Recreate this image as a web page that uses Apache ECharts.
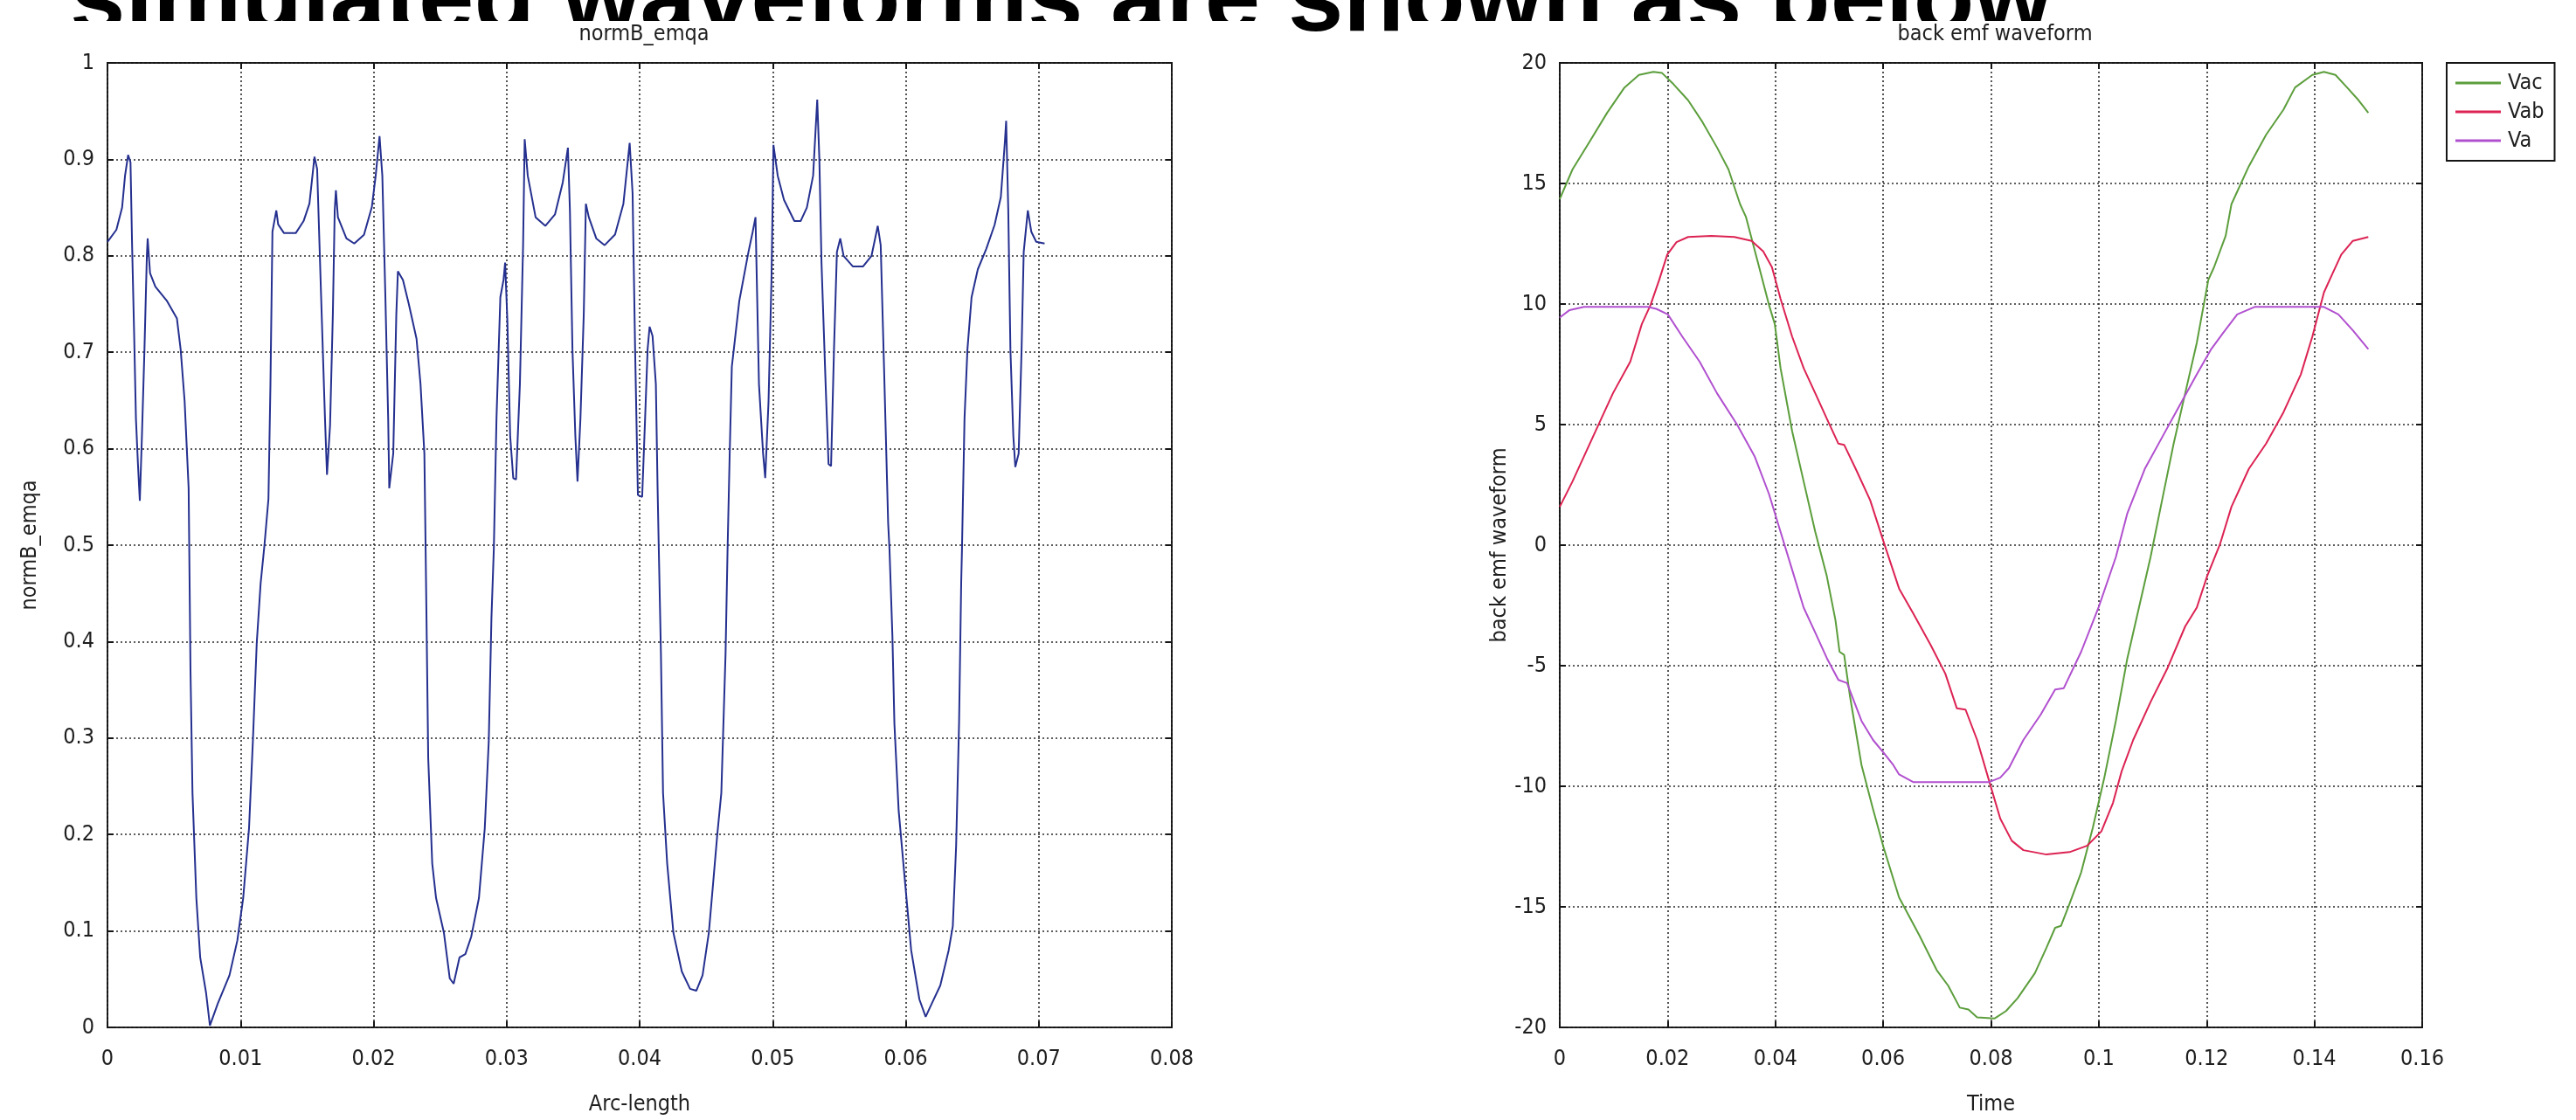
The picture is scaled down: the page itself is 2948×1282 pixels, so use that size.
<!DOCTYPE html>
<html>
<head>
<meta charset="utf-8">
<title>normB_emqa / back emf waveform</title>
<script src="https://cdn.jsdelivr.net/npm/echarts@6/dist/echarts.min.js"></script>
<style>
  html, body { margin: 0; padding: 0; background: #fff; }
  #chart { width: 2948px; height: 1282px; }
</style>
</head>
<body>
<div id="chart"></div>
<script>
// ---- normB_emqa along the air-gap arc ----
const arcLength = [
  0, 0.00067, 0.0011, 0.00132, 0.00155, 0.00173, 0.00185, 0.0020, 0.00214, 0.00229,
  0.00243, 0.00258, 0.00278, 0.00296, 0.00302, 0.0032, 0.0036, 0.00448, 0.00522, 0.0055,
  0.0058, 0.0061, 0.00624, 0.00639, 0.00668, 0.00697, 0.00741, 0.0077, 0.0083, 0.00917,
  0.00976, 0.0102, 0.01064, 0.01093, 0.01122, 0.01151, 0.0118, 0.0121, 0.01225, 0.0124,
  0.01269, 0.01283, 0.01327, 0.01415, 0.01474, 0.01518, 0.01556, 0.01576, 0.01606, 0.01635,
  0.0165, 0.01673, 0.01694, 0.01708, 0.01717, 0.01732, 0.01796, 0.01855, 0.01928, 0.01987,
  0.02016, 0.02045, 0.02066, 0.02089, 0.0211, 0.02118, 0.02148, 0.02171, 0.02183, 0.02221,
  0.02265, 0.02323, 0.02353, 0.02382, 0.0239, 0.02398, 0.02411, 0.02441, 0.0247, 0.02529,
  0.02573, 0.02602, 0.02646, 0.0269, 0.02734, 0.02792, 0.02836, 0.02866, 0.02886, 0.02904,
  0.02924, 0.02953, 0.02977, 0.02989, 0.03006, 0.03027, 0.0305, 0.03071, 0.031, 0.03124,
  0.03136, 0.03159, 0.03218, 0.03291, 0.03364, 0.03422, 0.03461, 0.03476, 0.03495, 0.03517,
  0.03533, 0.03555, 0.0358, 0.03596, 0.03618, 0.03674, 0.03737, 0.03815, 0.03878, 0.03925,
  0.03947, 0.03966, 0.03987, 0.04019, 0.04041, 0.0406, 0.04075, 0.04097, 0.04122, 0.04135,
  0.04144, 0.0416, 0.04176, 0.04207, 0.04254, 0.04317, 0.04379, 0.04426, 0.04473, 0.0452,
  0.04552, 0.04583, 0.04614, 0.04646, 0.04661, 0.04677, 0.04693, 0.04708, 0.04749, 0.04818,
  0.0485, 0.04871, 0.04897, 0.04928, 0.04944, 0.04969, 0.04991, 0.05006, 0.05038, 0.05085,
  0.05163, 0.0521, 0.05257, 0.05304, 0.05335, 0.05351, 0.05367, 0.05398, 0.0542, 0.05439,
  0.05461, 0.05483, 0.05508, 0.05533, 0.05602, 0.0568, 0.05743, 0.0579, 0.05812, 0.05837,
  0.05868, 0.05878, 0.059, 0.05915, 0.05947, 0.05994, 0.06041, 0.06103, 0.0615, 0.06197,
  0.0626, 0.06323, 0.06354, 0.06379, 0.06401, 0.06417, 0.06423, 0.06442, 0.06464, 0.06495,
  0.06542, 0.06605, 0.06668, 0.06715, 0.06746, 0.06755, 0.06771, 0.06787, 0.06809, 0.06824,
  0.06849, 0.06871, 0.06887, 0.06918, 0.06944, 0.06981, 0.07044
];
const normB = [
  0.8145, 0.827, 0.850, 0.883, 0.9045, 0.897, 0.811, 0.721, 0.631, 0.584,
  0.546, 0.609, 0.703, 0.800, 0.818, 0.782, 0.768, 0.753, 0.735, 0.703,
  0.649, 0.559, 0.37, 0.243, 0.134, 0.0725, 0.036, 0.002, 0.025, 0.054,
  0.09, 0.134, 0.2065, 0.297, 0.3986, 0.46, 0.5, 0.548, 0.667, 0.825,
  0.847, 0.8325, 0.8235, 0.8235, 0.836, 0.854, 0.9027, 0.89, 0.757, 0.631,
  0.573, 0.624, 0.739, 0.847, 0.868, 0.84, 0.818, 0.8127, 0.8217, 0.8505,
  0.883, 0.924, 0.883, 0.757, 0.631, 0.559, 0.595, 0.739, 0.784, 0.775,
  0.75, 0.714, 0.667, 0.595, 0.51, 0.424, 0.279, 0.17, 0.134, 0.098,
  0.0507, 0.0453, 0.0725, 0.076, 0.094, 0.134, 0.2065, 0.297, 0.424, 0.496,
  0.631, 0.757, 0.775, 0.793, 0.732, 0.613, 0.5695, 0.568, 0.667, 0.811,
  0.921, 0.883, 0.84, 0.831, 0.843, 0.876, 0.912, 0.847, 0.703, 0.6128,
  0.566, 0.631, 0.739, 0.854, 0.84, 0.818, 0.811, 0.822, 0.854, 0.917,
  0.865, 0.703, 0.552, 0.55, 0.631, 0.703, 0.7265, 0.717, 0.667, 0.559,
  0.496, 0.388, 0.243, 0.17, 0.098, 0.058, 0.04, 0.038, 0.054, 0.098,
  0.1486, 0.199, 0.243, 0.388, 0.496, 0.595, 0.685, 0.703, 0.753, 0.804,
  0.825, 0.84, 0.667, 0.595, 0.5695, 0.649, 0.775, 0.915, 0.883, 0.858,
  0.836, 0.836, 0.85, 0.883, 0.962, 0.9, 0.793, 0.667, 0.584, 0.582,
  0.703, 0.804, 0.818, 0.8, 0.789, 0.789, 0.8, 0.831, 0.811, 0.685,
  0.523, 0.496, 0.406, 0.315, 0.225, 0.152, 0.08, 0.029, 0.011, 0.025,
  0.0435, 0.08, 0.105, 0.188, 0.315, 0.46, 0.496, 0.631, 0.703, 0.757,
  0.786, 0.807, 0.832, 0.861, 0.919, 0.94, 0.847, 0.703, 0.613, 0.581,
  0.595, 0.703, 0.804, 0.847, 0.825, 0.8145, 0.8127
];

// ---- back emf waveform (line and phase voltages) ----
const timeVac = [
  0, 0.00236, 0.00558, 0.00879, 0.01201, 0.01469, 0.01737, 0.01898, 0.02113, 0.02381,
  0.0265, 0.02918, 0.03131, 0.03346, 0.03453, 0.03668, 0.03882, 0.03989, 0.04096, 0.04311,
  0.04525, 0.0474, 0.04954, 0.05115, 0.0519, 0.05276, 0.05383, 0.05598, 0.05812, 0.06005,
  0.06295, 0.0667, 0.06992, 0.07206, 0.07421, 0.07582, 0.07743, 0.08064, 0.08279, 0.08493,
  0.08815, 0.09029, 0.0919, 0.09298, 0.09458, 0.09673, 0.09887, 0.10102, 0.10316, 0.10531,
  0.10745, 0.1096, 0.11174, 0.11389, 0.11603, 0.11818, 0.12032, 0.12139, 0.12354, 0.12461,
  0.12783, 0.13104, 0.13426, 0.13641, 0.13962, 0.14177, 0.14391, 0.14606, 0.1482, 0.15
];
const vac = [
  14.35, 15.58, 16.75, 17.93, 18.98, 19.5, 19.63, 19.58, 19.11, 18.45,
  17.54, 16.49, 15.58, 14.14, 13.62, 11.79, 9.96, 9.17, 7.34, 4.73,
  2.64, 0.55, -1.28, -3.11, -4.42, -4.55, -6.25, -9.12, -10.95, -12.52,
  -14.61, -16.18, -17.62, -18.27, -19.18, -19.26, -19.58, -19.63, -19.32, -18.79,
  -17.75, -16.7, -15.87, -15.79, -14.87, -13.57, -11.74, -9.65, -7.29, -4.68,
  -2.59, -0.5, 1.86, 4.21, 6.3, 8.39, 11.0, 11.53, 12.83, 14.14,
  15.71, 17.02, 18.06, 18.98, 19.5, 19.63, 19.5, 18.98, 18.45, 17.93
];
const timeVab = [
  0, 0.00236, 0.00665, 0.00987, 0.01308, 0.01523, 0.01684, 0.01845, 0.01995, 0.02166,
  0.02381, 0.0281, 0.03239, 0.0356, 0.03775, 0.03936, 0.04096, 0.04311, 0.04525, 0.0474,
  0.04954, 0.05169, 0.05276, 0.05491, 0.05759, 0.06005, 0.06295, 0.06563, 0.06885, 0.07153,
  0.07367, 0.07528, 0.07743, 0.08, 0.08172, 0.08386, 0.08601, 0.09029, 0.09458, 0.0978,
  0.10048, 0.10263, 0.10424, 0.10638, 0.1096, 0.11281, 0.11603, 0.11818, 0.12011, 0.12247,
  0.12461, 0.12783, 0.13104, 0.13426, 0.13748, 0.13962, 0.14177, 0.14338, 0.14499, 0.14713,
  0.15
];
const vab = [
  1.59, 2.64, 4.73, 6.3, 7.61, 9.17, 9.96, 11.0, 12.05, 12.57,
  12.78, 12.83, 12.78, 12.62, 12.18, 11.53, 10.22, 8.65, 7.34, 6.3,
  5.25, 4.21, 4.16, 3.16, 1.86, 0.16, -1.8, -2.85, -4.16, -5.33,
  -6.77, -6.82, -8.08, -10.04, -11.34, -12.26, -12.65, -12.83, -12.73, -12.47,
  -11.87, -10.69, -9.38, -8.08, -6.51, -5.07, -3.37, -2.59, -1.28, 0.03,
  1.59, 3.16, 4.21, 5.51, 7.08, 8.65, 10.48, 11.27, 12.05, 12.62,
  12.78
];
const timeVa = [
  0, 0.00182, 0.0045, 0.0163, 0.01791, 0.02005, 0.02273, 0.02595, 0.02917, 0.03292,
  0.03614, 0.03882, 0.04096, 0.04311, 0.04525, 0.0474, 0.04954, 0.05169, 0.0533, 0.05598,
  0.05812, 0.06005, 0.06188, 0.06295, 0.06563, 0.07957, 0.08172, 0.08332, 0.08601, 0.08922,
  0.0919, 0.09351, 0.09673, 0.09995, 0.10316, 0.10531, 0.10853, 0.11174, 0.11496, 0.11818,
  0.12086, 0.123, 0.12568, 0.1289, 0.14177, 0.14445, 0.14713, 0.15
];
const va = [
  9.44, 9.75, 9.88, 9.88, 9.8, 9.57, 8.65, 7.61, 6.3, 4.99,
  3.69, 2.12, 0.55, -1.02, -2.59, -3.63, -4.68, -5.59, -5.72, -7.29,
  -8.08, -8.6, -9.12, -9.51, -9.83, -9.83, -9.64, -9.25, -8.08, -7.03,
  -5.99, -5.93, -4.42, -2.59, -0.5, 1.33, 3.16, 4.47, 5.78, 7.08,
  8.13, 8.78, 9.57, 9.88, 9.88, 9.57, 8.91, 8.13
];

// ---- axis ranges and labels ----
const arcTicks = { min: 0, max: 0.08, step: 0.01 };
const normTicks = { min: 0, max: 1, step: 0.1 };
const timeTicks = { min: 0, max: 0.16, step: 0.02 };
const emfTicks = { min: -20, max: 20, step: 5 };
const seriesNames = ['Vac', 'Vab', 'Va'];
const headline = 'simulated waveforms are shown as below';

const zip = (xs, ys) => xs.map((x, i) => [x, ys[i]]);
const fmt = v => String(+v.toFixed(3));

const FONT = '"Liberation Sans Narrow", "Arial Narrow", "DejaVu Sans Condensed", "Liberation Sans", sans-serif';
const INK = '#1e1e1e';
const TXT = 25;

const PLOT_TOP = 72;
const PLOT_H = 1129;

const gridBox = (left, width) => ({
  left, top: PLOT_TOP, width, height: PLOT_H,
  show: true, borderColor: '#151515', borderWidth: 2,
  backgroundColor: '#ffffff', z: 5
});

const dotted = { color: '#2a2a2a', width: 1.6, type: [2, 3] };

function valueAxis(grid, range, opts) {
  const base = {
    type: 'value', gridIndex: grid, z: 6,
    min: range.min, max: range.max, interval: range.step,
    axisLine: { show: false, onZero: false },
    axisTick: { show: true, inside: true, length: 7, lineStyle: { color: '#151515', width: 2 } },
    splitLine: { show: false },
    axisLabel: { show: false }
  };
  return Object.assign(base, opts);
}

const mainLabelX = {
  show: true, color: INK, fontFamily: FONT, fontSize: TXT, margin: 24,
  formatter: fmt, showMinLabel: true, showMaxLabel: true
};
const mainLabelY = {
  show: true, color: INK, fontFamily: FONT, fontSize: TXT, margin: 15,
  formatter: fmt, showMinLabel: true, showMaxLabel: true, padding: [10, 0, 0, 0]
};

const axisNameStyle = { color: INK, fontFamily: FONT, fontSize: TXT };

const option = {
  animation: false,
  backgroundColor: '#ffffff',
  textStyle: { fontFamily: FONT },
  title: [
    { text: 'normB_emqa', left: 732, top: 22, textAlign: 'center',
      textStyle: { fontFamily: FONT, fontSize: TXT, fontWeight: 'normal', color: INK } },
    { text: 'back emf waveform', left: 2278, top: 22, textAlign: 'center',
      textStyle: { fontFamily: FONT, fontSize: TXT, fontWeight: 'normal', color: INK } }
  ],
  graphic: [
    // heading line above the two panels; the panels hide its lower part
    { type: 'text', x: 80, y: 4, z: 0,
      style: { text: headline, fill: '#000', font: 'bold 114px "Liberation Sans", Arial, sans-serif',
               textVerticalAlign: 'middle' } },
    { type: 'rect', z: 1, shape: { x: 0, y: 24, width: 1452, height: 1300 }, style: { fill: '#ffffff' } },
    { type: 'rect', z: 1, shape: { x: 1605, y: 24, width: 1350, height: 1300 }, style: { fill: '#ffffff' } }
  ],
  legend: {
    data: seriesNames, orient: 'vertical', left: 2800, top: PLOT_TOP, z: 8,
    backgroundColor: '#ffffff', borderColor: '#151515', borderWidth: 2,
    padding: [10, 12, 10, 10], itemGap: 7, itemWidth: 52, itemHeight: 3, icon: 'rect',
    textStyle: { fontFamily: FONT, fontSize: TXT, color: INK, lineHeight: 26, padding: [0, 0, 0, 3] }
  },
  grid: [gridBox(123, 1218), gridBox(1785, 987)],
  xAxis: [
    valueAxis(0, arcTicks, {
      position: 'bottom', axisLabel: mainLabelX,
      splitLine: { show: true, lineStyle: dotted },
      name: 'Arc-length', nameLocation: 'middle', nameGap: 76, nameTextStyle: axisNameStyle
    }),
    valueAxis(0, arcTicks, { position: 'top' }),
    valueAxis(1, timeTicks, {
      position: 'bottom', axisLabel: mainLabelX,
      splitLine: { show: true, lineStyle: dotted },
      name: 'Time', nameLocation: 'middle', nameGap: 76, nameTextStyle: axisNameStyle
    }),
    valueAxis(1, timeTicks, { position: 'top' })
  ],
  yAxis: [
    valueAxis(0, normTicks, {
      position: 'left', axisLabel: mainLabelY,
      splitLine: { show: true, lineStyle: dotted },
      name: 'normB_emqa', nameLocation: 'middle', nameGap: 76, nameTextStyle: axisNameStyle
    }),
    valueAxis(0, normTicks, { position: 'right' }),
    valueAxis(1, emfTicks, {
      position: 'left', axisLabel: mainLabelY,
      splitLine: { show: true, lineStyle: dotted },
      name: 'back emf waveform', nameLocation: 'middle', nameGap: 54, nameTextStyle: axisNameStyle
    }),
    valueAxis(1, emfTicks, { position: 'right' })
  ],
  series: [
    { name: 'normB_emqa', type: 'line', xAxisIndex: 0, yAxisIndex: 0, z: 7,
      data: zip(arcLength, normB), showSymbol: false, symbol: 'none',
      lineStyle: { color: '#25308f', width: 2 }, itemStyle: { color: '#25308f' } },
    { name: 'Vac', type: 'line', xAxisIndex: 2, yAxisIndex: 2, z: 7,
      data: zip(timeVac, vac), showSymbol: false, symbol: 'none',
      lineStyle: { color: '#5c9e3c', width: 2 }, itemStyle: { color: '#5c9e3c' } },
    { name: 'Vab', type: 'line', xAxisIndex: 2, yAxisIndex: 2, z: 7,
      data: zip(timeVab, vab), showSymbol: false, symbol: 'none',
      lineStyle: { color: '#dc2353', width: 2 }, itemStyle: { color: '#dc2353' } },
    { name: 'Va', type: 'line', xAxisIndex: 2, yAxisIndex: 2, z: 7,
      data: zip(timeVa, va), showSymbol: false, symbol: 'none',
      lineStyle: { color: '#b150cf', width: 2 }, itemStyle: { color: '#b150cf' } }
  ]
};

const chart = echarts.init(document.getElementById('chart'), null, { renderer: 'canvas' });
chart.setOption(option);
</script>
</body>
</html>
